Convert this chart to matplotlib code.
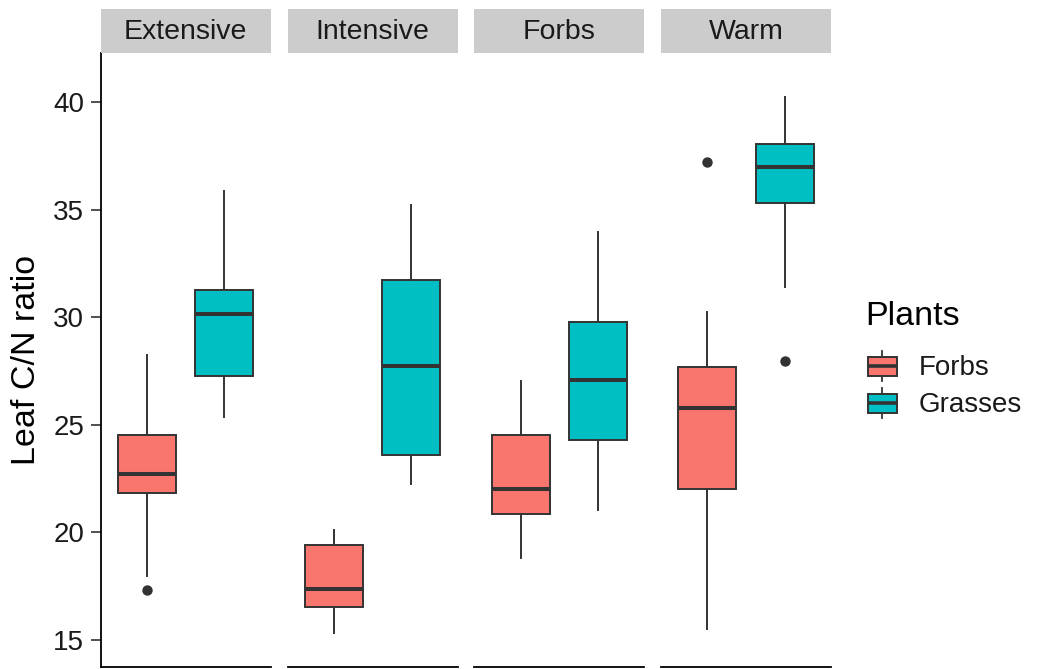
import matplotlib
matplotlib.use("Agg")
import matplotlib.pyplot as plt
from matplotlib.patches import Rectangle
from matplotlib.lines import Line2D

plt.rcParams['font.family'] = ['Liberation Sans', 'DejaVu Sans']

# ---------------- data ----------------
panels = ["Extensive", "Intensive", "Forbs", "Warm"]
plants = ["Forbs", "Grasses"]
colors = ["#F8766D", "#00BFC4"]

forbs_whislo = [17.98, 15.30, 18.79, 15.50]
forbs_q1     = [21.81, 16.53, 20.87, 22.03]
forbs_med    = [22.73, 17.38, 22.01, 25.78]
forbs_q3     = [24.51, 19.40, 24.51, 27.70]
forbs_whishi = [28.25, 20.11, 27.05, 30.26]
forbs_fliers = [[17.32], [], [], [37.22]]

grass_whislo = [25.35, 22.25, 21.02, 31.42]
grass_q1     = [27.25, 23.61, 24.29, 35.30]
grass_med    = [30.15, 27.73, 27.08, 37.00]
grass_q3     = [31.27, 31.74, 29.77, 38.05]
grass_whishi = [35.89, 35.22, 33.95, 40.26]
grass_fliers = [[], [], [], [27.97]]

y_ticks = [15, 20, 25, 30, 35, 40]
y_label = "Leaf C/N ratio"
legend_title = "Plants"

# ---------------- layout ----------------
W, H = 1037, 669
fig = plt.figure(figsize=(W / 100, H / 100), dpi=100)

edge = "#333333"
panel_left0 = 100.8
panel_w = 170.0
panel_step = 186.7
plot_top = 53.0
plot_bot = 667.0
strip_top = 9.0

def fx(px):
    return px / W

def fy(py):
    return 1 - py / H

ylim = (13.74, 42.29)

series = [
    (forbs_whislo, forbs_q1, forbs_med, forbs_q3, forbs_whishi, forbs_fliers),
    (grass_whislo, grass_q1, grass_med, grass_q3, grass_whishi, grass_fliers),
]

for i, name in enumerate(panels):
    left = panel_left0 + i * panel_step
    ax = fig.add_axes([fx(left), fy(plot_bot), fx(panel_w), (plot_bot - plot_top) / H])
    ax.set_xlim(0.4, 2.6)
    ax.set_ylim(*ylim)
    for j, (wl, q1, md, q3, wh, fl) in enumerate(series):
        stats = [dict(whislo=wl[i], q1=q1[i], med=md[i], q3=q3[i], whishi=wh[i],
                      fliers=fl[i], label=plants[j])]
        ax.bxp(stats, positions=[j + 1], widths=0.75, patch_artist=True,
               showcaps=False, manage_ticks=False,
               boxprops=dict(facecolor=colors[j], edgecolor=edge, linewidth=1.4),
               medianprops=dict(color=edge, linewidth=2.9, solid_capstyle='butt'),
               whiskerprops=dict(color=edge, linewidth=1.4),
               flierprops=dict(marker='o', markerfacecolor=edge, markeredgecolor='none',
                               markersize=7.5))
    ax.set_facecolor('none')
    for s in ['top', 'right']:
        ax.spines[s].set_visible(False)
    ax.spines['bottom'].set_linewidth(1.3)
    ax.spines['bottom'].set_color('black')
    ax.set_xticks([])
    if i == 0:
        ax.spines['left'].set_linewidth(1.3)
        ax.spines['left'].set_color('black')
        ax.set_yticks(y_ticks)
        ax.set_yticklabels([str(t) for t in y_ticks], fontsize=20, color='#1a1a1a')
        ax.tick_params(axis='y', length=7, width=1.2, color='#333333', pad=5)
    else:
        ax.spines['left'].set_visible(False)
        ax.set_yticks([])

    # strip
    sax = fig.add_axes([fx(left), fy(plot_top), fx(panel_w), (plot_top - strip_top) / H])
    sax.set_facecolor('#CCCCCC')
    for s in sax.spines.values():
        s.set_visible(False)
    sax.set_xticks([])
    sax.set_yticks([])
    sax.text(0.5, 0.47, name, ha='center', va='center', fontsize=20.5,
             color='#1a1a1a', transform=sax.transAxes)

# y-axis label
fig.text(fx(27), fy(360), y_label, rotation=90, ha='center', va='center',
         fontsize=24.5, color='black')

# ---------------- legend (drawn manually in pixel coords) ----------------
lx0, ly0, lx1, ly1 = 850, 290, 1037, 430
lax = fig.add_axes([fx(lx0), fy(ly1), fx(lx1 - lx0), (ly1 - ly0) / H])
lax.set_xlim(lx0, lx1)
lax.set_ylim(ly1, ly0)
lax.axis('off')
lax.text(865, 316, legend_title, fontsize=24.5, ha='left', va='center', color='black')
key_centers = [366, 403]
for j, name in enumerate(plants):
    cy = key_centers[j]
    lax.add_line(Line2D([882.3, 882.3], [cy - 15, cy + 15], color=edge, lw=1.3))
    lax.add_patch(Rectangle((868, cy - 9.5), 29, 19, facecolor=colors[j],
                            edgecolor=edge, lw=1.4, zorder=3))
    lax.add_line(Line2D([868, 897], [cy, cy], color=edge, lw=2.6, zorder=4,
                        solid_capstyle='butt'))
    lax.text(919, cy + 2, name, fontsize=20, ha='left', va='center', color='#1a1a1a')

fig.savefig("out.png", dpi=100)
